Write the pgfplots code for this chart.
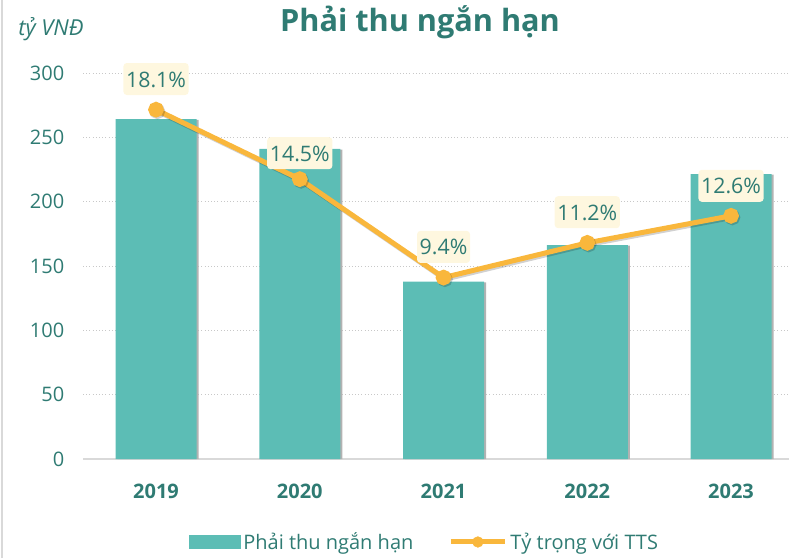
\documentclass[border=0pt]{standalone}
\usepackage{fontspec}
\setmainfont{Open Sans}
\usepackage{pgfplots}
\pgfplotsset{compat=1.18}
\definecolor{barteal}{HTML}{5CBDB5}
\definecolor{lineorange}{HTML}{F9B73C}
\definecolor{txtteal}{HTML}{2F7B73}
\definecolor{lblfill}{HTML}{FEF7DF}
\definecolor{gridgray}{HTML}{C8C8C8}
\definecolor{axgray}{HTML}{D9D9D9}
\begin{document}
\begin{tikzpicture}
\path[use as bounding box] (0,0) rectangle (592.5pt,418.5pt);
\draw[axgray, line width=1pt] (1.5pt,0) -- (1.5pt,418.5pt);
\node[anchor=base, font=\fontsize{23}{27}\selectfont\bfseries, text=txtteal, inner sep=0pt] at (315pt,394.5pt) {Phải thu ngắn hạn};
\node[anchor=base west, font=\fontsize{16.5}{19}\selectfont\itshape, text=txtteal, inner sep=0pt] at (13.5pt,391.5pt) {tỷ VNĐ};
\begin{axis}[
  at={(62.25pt,74.25pt)}, anchor=south west,
  scale only axis, width=529.5pt, height=289.5pt,
  xmin=-0.508, xmax=4.403, ymin=0, ymax=300,
  clip=false,
  axis x line*=bottom, axis y line*=left,
  x axis line style={axgray, line width=1.5pt, -},
  y axis line style={draw=none},
  xtick={0,1,2,3,4}, xticklabels={2019,2020,2021,2022,2023},
  ytick={0,50,100,150,200,250,300},
  major tick length=0pt,
  ymajorgrids, grid style={gridgray, dotted, line width=0.6pt},
  /pgf/number format/assume math mode=true,
  xticklabel style={anchor=base, yshift=-29.25pt, font=\fontsize{15}{18}\selectfont\bfseries, text=txtteal},
  yticklabel style={anchor=east, xshift=-10.5pt, font=\fontsize{15}{18}\selectfont, text=txtteal},
  legend columns=2,
  legend style={at={(0.484,-0.215)}, anchor=center, draw=none, fill=none,
    font=\fontsize{15}{18}\selectfont, text=txtteal,
    /tikz/every even column/.append style={column sep=24pt}},
]
\addplot[ybar, bar width=60.75pt, bar shift=1.6pt, fill=black!30, draw=none, forget plot]
  coordinates {(0,263.5) (1,240.5) (2,137.3) (3,165.8) (4,221)};
\addplot[ybar, bar width=60.75pt, bar shift=0pt, fill=barteal, draw=none,
  legend image code/.code={\fill[barteal] (0pt,-4.9pt) rectangle (39pt,4.9pt);}]
  coordinates {(0,264.2) (1,241) (2,137.8) (3,166.3) (4,221.5)};
\addlegendentry{Phải thu ngắn hạn}
\addlegendimage{legend image code/.code={\draw[lineorange, line width=3.75pt] (0pt,0pt) -- (41pt,0pt); \fill[lineorange] (20.5pt,0pt) circle (4pt);}}
\addlegendentry{Tỷ trọng với TTS}
\end{axis}
\begin{axis}[
  at={(62.25pt,74.25pt)}, anchor=south west,
  scale only axis, width=529.5pt, height=289.5pt,
  xmin=-0.508, xmax=4.403, ymin=0, ymax=20,
  clip=false, hide axis,
  /pgf/number format/assume math mode=true,
]
\addplot[black, opacity=0.18, line width=3.75pt, mark=*, mark size=4pt, xshift=1pt, yshift=-1.2pt]
  coordinates {(0,18.1) (1,14.5) (2,9.4) (3,11.2) (4,12.6)};
\addplot[lineorange, line width=3.75pt, mark=*, mark size=4pt,
  mark options={fill=lineorange, draw=lineorange},
  visualization depends on={\thisrow{s} \as \lblshift},
  nodes near coords={\pgfmathprintnumber[fixed,precision=1,fixed zerofill,assume math mode=true]{\pgfplotspointmeta}\%},
  every node near coord/.style={anchor=center, yshift=\lblshift pt, fill=lblfill, rounded corners=2.5pt,
    text=txtteal, font=\fontsize{16}{19}\selectfont, inner xsep=2pt, text height=12pt, text depth=0pt, inner ysep=6pt, opacity=1}]
  table[x=x, y=y] {
x y s
0 18.1 23
1 14.5 19.5
2 9.4 23
3 11.2 23
4 12.6 22.5
};
\end{axis}
\end{tikzpicture}
\end{document}
